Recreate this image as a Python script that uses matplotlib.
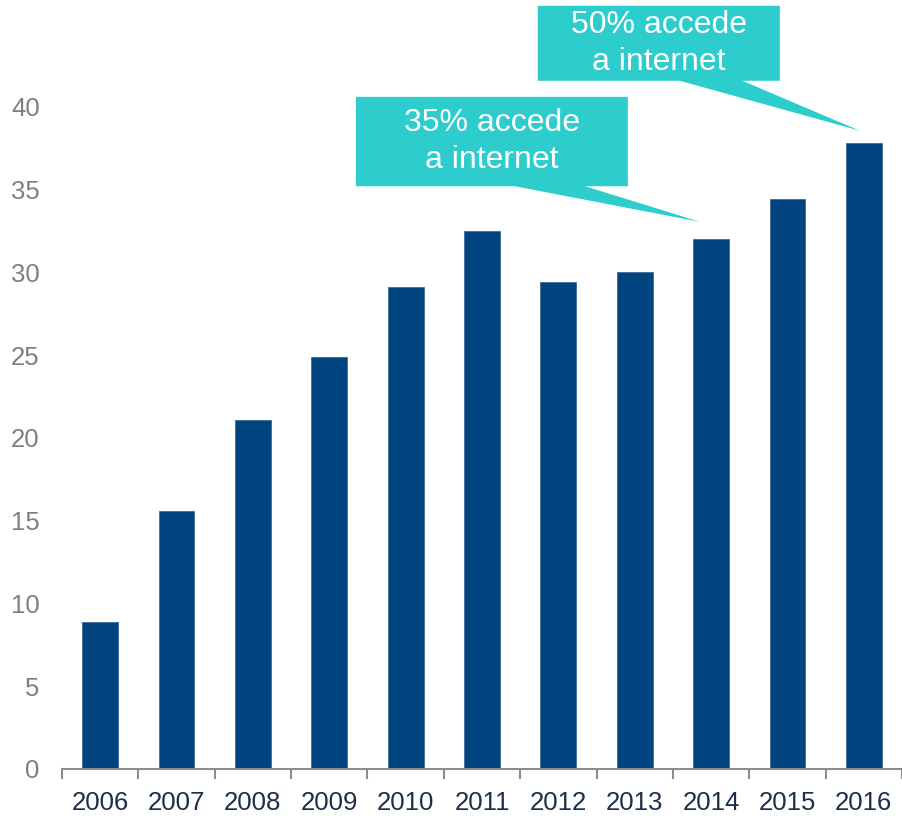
import matplotlib.pyplot as plt
import numpy as np
from matplotlib.patches import Polygon

plt.rcParams['font.family'] = ['Liberation Sans', 'DejaVu Sans']

# data
years = ['2006', '2007', '2008', '2009', '2010', '2011',
         '2012', '2013', '2014', '2015', '2016']
values = [8.9, 15.6, 21.1, 24.9, 29.1, 32.5, 29.4, 30.0, 32.0, 34.4, 37.8]
callout_texts = ['35% accede\na internet', '50% accede\na internet']
callout_years = ['2014', '2016']

bar_color = '#00447f'
callout_color = '#2ecdcd'

fig = plt.figure(figsize=(9.02, 8.16), dpi=100)
ax = fig.add_axes([62 / 902, 47 / 816, 840 / 902, 745 / 816])

x = np.arange(len(years))
ax.bar(x, values, width=0.47, color=bar_color, edgecolor='#3a6b9a', linewidth=0.6, zorder=2)

ax.set_xlim(-0.5, len(years) - 0.5)
ax.set_ylim(0, 45)
ax.set_yticks(np.arange(0, 41, 5))
ax.set_xticks(x)
ax.set_xticklabels(years)
ax.set_xticks(np.arange(-0.5, len(years), 1), minor=True)

for s in ['top', 'right', 'left']:
    ax.spines[s].set_visible(False)
ax.spines['bottom'].set_color('#8c8c8c')
ax.spines['bottom'].set_linewidth(1.5)

ax.tick_params(axis='y', length=0, labelsize=18.5, labelcolor='#7f7f7f', pad=16)
ax.tick_params(axis='x', which='major', length=0, labelsize=18.5, labelcolor='#1c2e4a', pad=16)
ax.tick_params(axis='x', which='minor', length=7, width=1.5, color='#8c8c8c', direction='out')


def callout(ax, xi, yv, box, base, text):
    # box = (x0, x1, y0, y1) in data units; base = (xa, xb) along box bottom
    x0, x1, y0, y1 = box
    xa, xb = base
    pts = [(x0, y0), (xa, y0), (xi, yv), (xb, y0), (x1, y0), (x1, y1), (x0, y1)]
    ax.add_patch(Polygon(pts, closed=True, facecolor=callout_color,
                         edgecolor='none', clip_on=False, zorder=3))
    ax.text((x0 + x1) / 2, (y0 + y1) / 2, text, ha='center', va='center',
            color='white', fontsize=23, linespacing=1.3, zorder=4, clip_on=False)


i1 = years.index(callout_years[0])
i2 = years.index(callout_years[1])
callout(ax, i1 - 0.145, values[i1] + 1.05, (3.35, 6.91, 35.2, 40.6), (5.43, 6.35), callout_texts[0])
callout(ax, i2 - 0.05, values[i2] + 0.75, (5.73, 8.90, 41.57, 46.1), (7.59, 8.41), callout_texts[1])

plt.savefig('out.png', dpi=100)
